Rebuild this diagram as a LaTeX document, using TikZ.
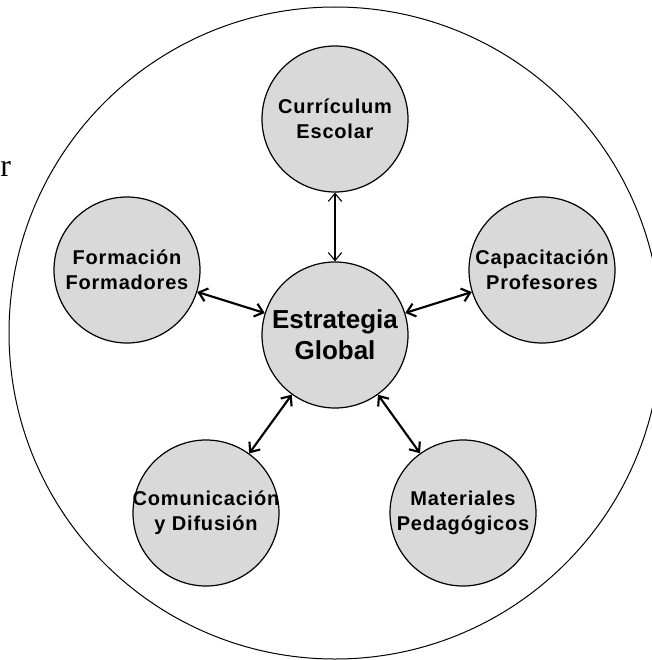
\documentclass[tikz,border=0pt]{standalone}
\usepackage{fontspec}
\setmainfont{Liberation Serif}
\newfontfamily\arialfont{Liberation Sans}
\newfontfamily\arialancha[LetterSpace=4]{Liberation Sans}
\usetikzlibrary{arrows.meta}

\tikzset{
  tema/.style={circle, draw, line width=0.9pt, fill=black!15, minimum size=109.5pt, inner sep=0pt},
  texto/.style={align=center, inner sep=0pt, font=\arialancha\bfseries\fontsize{15}{18.75}\selectfont},
  textoglobal/.style={align=center, inner sep=0pt, font=\arialfont\bfseries\fontsize{19.5}{23.25}\selectfont},
  enlace/.style={{Straight Barb[length=6pt,width=10pt]}-{Straight Barb[length=6pt,width=10pt]}, line width=1.6pt},
  enlacefino/.style={enlace, line width=0.8pt}
}

\begin{document}
\begin{tikzpicture}[x=0.75pt, y=-0.75pt]
  \useasboundingbox (0,0) rectangle (652,660);

  % circulo exterior
  \node[circle, draw, line width=0.75pt, minimum size=489pt, inner sep=0pt] (marco) at (335,333) {};

  \node[anchor=base west, inner sep=0pt, font=\fontsize{24}{28}\selectfont] (letra) at (0,176) {r};

  % nodos
  \node[tema, label={[textoglobal]center:Estrategia\\Global}] (glob) at (335,335) {};
  \node[tema, label={[texto]center:Currículum\\Escolar}] (curr) at (335,119) {};
  \node[tema, label={[texto]center:Formación\\Formadores}] (form) at (127,270) {};
  \node[tema, label={[texto]center:Capacitación\\Profesores}] (capa) at (542,270) {};
  \node[tema, label={[texto]center:Comunicación\\y Difusión}] (comu) at (206,513) {};
  \node[tema, label={[texto]center:Materiales\\Pedagógicos}] (mate) at (463,513) {};

  % enlaces
  \draw[enlacefino] (curr) -- (glob);
  \draw[enlace] (form) -- (glob);
  \draw[enlace] (capa) -- (glob);
  \draw[enlace] (comu) -- (glob);
  \draw[enlace] (mate) -- (glob);
\end{tikzpicture}
\end{document}
